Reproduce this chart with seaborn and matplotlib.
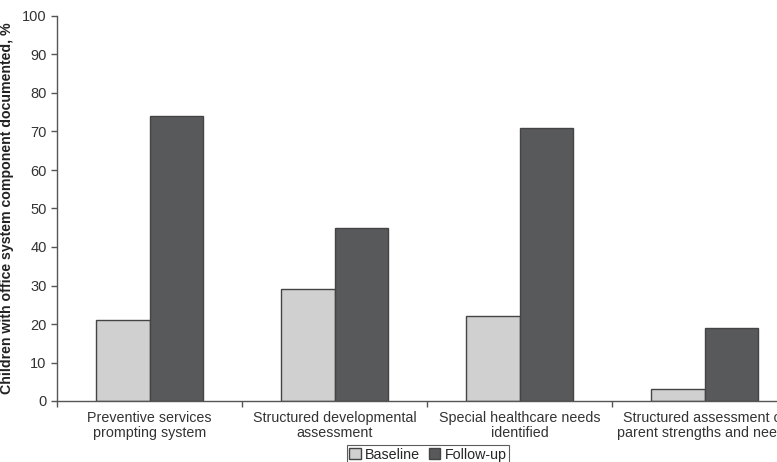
import numpy as np
import pandas as pd
import matplotlib
matplotlib.use("Agg")
import matplotlib.pyplot as plt
import seaborn as sns

categories = ["Preventive services\nprompting system",
              "Structured developmental\nassessment",
              "Special healthcare needs\nidentified",
              "Structured assessment of\nparent strengths and needs"]
baseline = [21, 29, 22, 3]
follow_up = [74, 45, 71, 19]
series = ["Baseline", "Follow-up"]
colors = ["#d0d0d0", "#58595b"]

sns.set_theme(style="white")
plt.rcParams["font.family"] = ["Liberation Sans", "DejaVu Sans"]

df = pd.DataFrame({
    "category": categories * 2,
    "series": [series[0]] * 4 + [series[1]] * 4,
    "value": baseline + follow_up,
})

fig = plt.figure(figsize=(7.77, 4.62), dpi=100)
ax = fig.add_axes([57 / 777, 61 / 462, 740 / 777, 385 / 462])

sns.barplot(data=df, x="category", y="value", hue="series", order=categories,
            hue_order=series, palette=colors, width=0.573, edgecolor="#444444",
            linewidth=1.0, saturation=1, ax=ax)

ax.set_ylim(0, 100)
ax.set_xlim(-0.5, 3.5)
ax.set_yticks(np.arange(0, 101, 10))
ax.set_xticks(range(4))
ax.set_xticklabels(categories, fontsize=10.3, color="#333333", linespacing=1.1)
ax.set_xticks([-0.5, 0.5, 1.5, 2.5, 3.5], minor=True)
ax.tick_params(axis="x", which="major", length=0, pad=7, bottom=True)
ax.tick_params(axis="x", which="minor", length=4, width=1, color="#555555",
               direction="out", bottom=True)
ax.tick_params(axis="y", length=4, width=1, color="#555555", direction="out",
               left=True, labelsize=10.5, labelcolor="#333333")
ax.set_xlabel("")
ax.set_ylabel("Children with office system component documented, %",
              fontsize=10.2, fontweight="bold", color="#222222", labelpad=6)

for side in ["top", "right"]:
    ax.spines[side].set_visible(False)
for side in ["left", "bottom"]:
    ax.spines[side].set_color("#555555")
    ax.spines[side].set_linewidth(1.0)

ax.legend(loc="upper center", ncol=2, frameon=True,
          fancybox=False, edgecolor="#333333", fontsize=10.3,
          handlelength=0.8, handleheight=0.8, handletextpad=0.3,
          columnspacing=0.6, borderpad=0.2, borderaxespad=0)
leg = ax.get_legend()
leg.get_frame().set_linewidth(0.8)
# legend top sits just above the bottom edge of the figure
leg.set_bbox_to_anchor((428 / 777, 17 / 462), transform=fig.transFigure)

fig.savefig("out.png", dpi=100)
